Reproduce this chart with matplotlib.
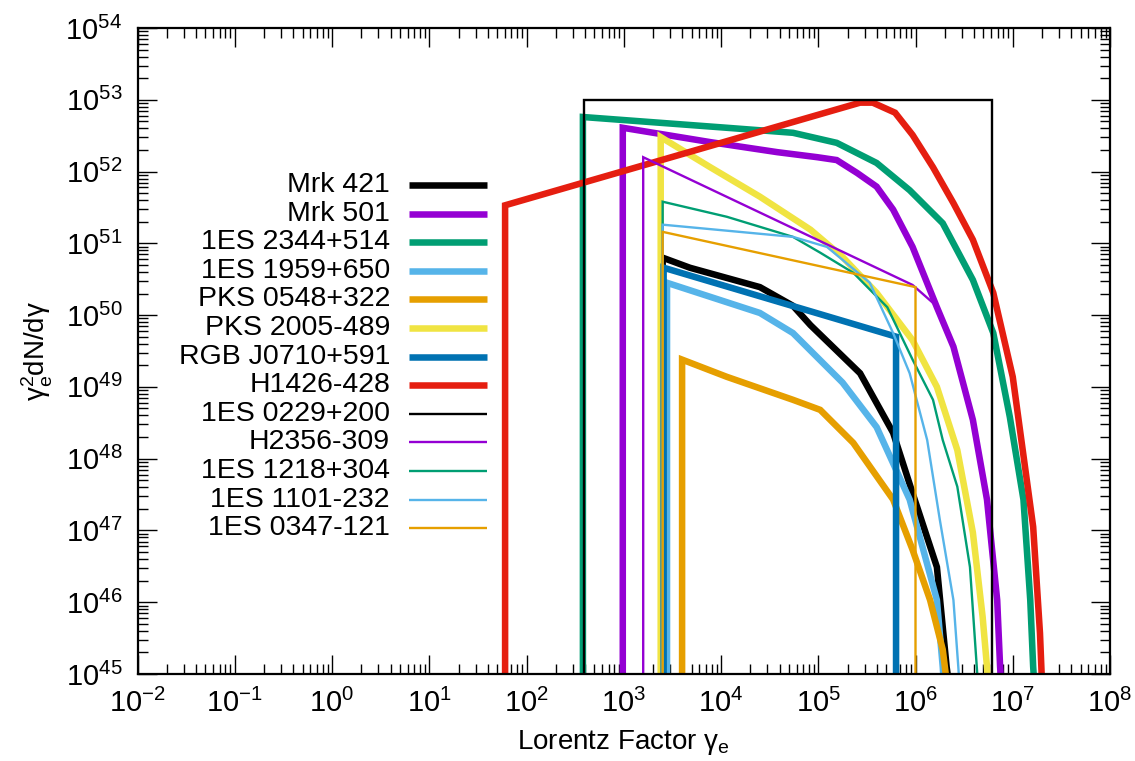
import numpy as np
import matplotlib
matplotlib.use("Agg")
import matplotlib.pyplot as plt
from matplotlib.ticker import LogLocator, FuncFormatter, NullFormatter

plt.rcParams['font.family'] = ['Liberation Sans', 'DejaVu Sans']
plt.rcParams['mathtext.fontset'] = 'custom'
plt.rcParams['mathtext.rm'] = 'Liberation Sans'
plt.rcParams['mathtext.it'] = 'Liberation Sans'
plt.rcParams['mathtext.default'] = 'regular'

# ---- data (log10 of Lorentz factor, log10 of gamma^2 dN/dgamma) ----
names = ["Mrk 421", "Mrk 501", "1ES 2344+514", "1ES 1959+650", "PKS 0548+322",
         "PKS 2005-489", "RGB J0710+591", "H1426-428", "1ES 0229+200",
         "H2356-309", "1ES 1218+304", "1ES 1101-232", "1ES 0347-121"]
colors = ["#000000", "#9400d3", "#009e73", "#56b4e9", "#e69f00", "#f0e442",
          "#0072b2", "#e51e10", "#000000", "#9400d3", "#009e73", "#56b4e9", "#e69f00"]
thick = [True] * 8 + [False] * 5

mrk421_x = [3.40, 3.40, 3.68, 4.40, 4.74, 4.92, 5.43, 5.77, 5.97, 6.22, 6.32, 6.34]
mrk421_y = [44.9, 50.80, 50.66, 50.39, 50.13, 49.86, 49.19, 48.36, 47.52, 46.49, 45.10, 44.9]

mrk501_x = [2.99, 2.99, 3.89, 4.58, 4.99, 5.19, 5.40, 5.60, 5.77, 5.97, 6.22, 6.39, 6.59, 6.735, 6.84, 6.87, 6.88]
mrk501_y = [44.9, 52.61, 52.41, 52.27, 52.20, 52.16, 51.98, 51.79, 51.47, 50.95, 50.11, 49.56, 48.54, 47.43, 46.03, 45.10, 44.9]

es2344_x = [2.58, 2.58, 4.06, 4.74, 5.19, 5.60, 5.94, 6.28, 6.59, 6.80, 6.97, 7.11, 7.18, 7.21, 7.22]
es2344_y = [44.9, 52.76, 52.61, 52.54, 52.40, 52.12, 51.74, 51.28, 50.49, 49.75, 48.58, 47.43, 46.03, 45.10, 44.9]

es1959_x = [3.445, 3.445, 4.40, 4.74, 5.25, 5.60, 5.94, 6.22, 6.28, 6.29]
es1959_y = [44.9, 50.45, 50.03, 49.75, 49.06, 48.44, 47.43, 46.03, 45.10, 44.9]

pks0548_x = [3.60, 3.60, 4.06, 4.74, 5.02, 5.36, 5.77, 5.97, 6.15, 6.28, 6.32]
pks0548_y = [44.9, 49.38, 49.14, 48.82, 48.68, 48.22, 47.43, 46.73, 46.03, 45.34, 44.9]

pks2005_x = [3.38, 3.38, 3.89, 4.40, 4.92, 5.25, 5.60, 5.97, 6.22, 6.43, 6.59, 6.69, 6.735, 6.745]
pks2005_y = [44.9, 52.48, 52.06, 51.65, 51.19, 50.81, 50.31, 49.65, 49.00, 48.12, 46.97, 45.80, 45.10, 44.9]

rgb0710_x = [3.41, 3.41, 5.80, 5.80]
rgb0710_y = [44.9, 50.66, 49.70, 44.9]

h1426_x = [1.78, 1.78, 5.43, 5.56, 5.79, 5.97, 6.18, 6.39, 6.59, 6.80, 7.00, 7.21, 7.28, 7.30]
h1426_y = [44.9, 51.53, 52.96, 52.96, 52.82, 52.51, 52.06, 51.56, 51.05, 50.31, 49.14, 47.05, 45.57, 44.9]

es0229_x = [2.59, 2.59, 6.79, 6.79]
es0229_y = [44.9, 53.0, 53.0, 44.9]

h2356_x = [3.20, 3.20, 5.97, 6.18, 6.22]
h2356_y = [44.9, 52.20, 50.42, 50.17, 50.11]

es1218_x = [3.40, 3.40, 4.06, 4.74, 5.02, 5.36, 5.71, 5.97, 6.18, 6.28, 6.43, 6.56, 6.63, 6.64]
es1218_y = [44.9, 51.58, 51.37, 51.09, 50.87, 50.59, 50.11, 49.38, 48.82, 48.26, 47.61, 46.49, 45.10, 44.9]

es1101_x = [3.40, 3.40, 4.74, 5.09, 5.25, 5.53, 5.77, 5.94, 6.12, 6.25, 6.39, 6.44, 6.45]
es1101_y = [44.9, 51.26, 51.09, 50.95, 50.77, 50.45, 49.75, 49.19, 48.26, 47.15, 46.03, 45.10, 44.9]

es0347_x = [3.40, 3.40, 6.00, 6.00]
es0347_y = [44.9, 51.16, 50.39, 44.9]

series_x = [mrk421_x, mrk501_x, es2344_x, es1959_x, pks0548_x, pks2005_x, rgb0710_x,
            h1426_x, es0229_x, h2356_x, es1218_x, es1101_x, es0347_x]
series_y = [mrk421_y, mrk501_y, es2344_y, es1959_y, pks0548_y, pks2005_y, rgb0710_y,
            h1426_y, es0229_y, h2356_y, es1218_y, es1101_y, es0347_y]

# ---- figure ----
W, H = 1135, 761
fig = plt.figure(figsize=(W / 100, H / 100), dpi=100)
L, R, T, B = 137.5, 1110, 28, 674
ax = fig.add_axes([L / W, 1 - B / H, (R - L) / W, (B - T) / H])
ax.set_xscale('log')
ax.set_yscale('log')
ax.set_xlim(1e-2, 1e8)
ax.set_ylim(1e45, 1e54)

LW_THICK, LW_THIN = 4.7, 1.7
for xs, ys, c, tk in zip(series_x, series_y, colors, thick):
    ax.plot(10 ** np.array(xs), 10 ** np.array(ys), color=c,
            lw=LW_THICK if tk else LW_THIN,
            solid_joinstyle='miter', solid_capstyle='butt')

fmt = FuncFormatter(lambda v, p: r'$10^{%d}$' % int(round(np.log10(v))))
for axis in (ax.xaxis, ax.yaxis):
    axis.set_major_locator(LogLocator(base=10, numticks=30))
    axis.set_minor_locator(LogLocator(base=10, subs=np.arange(2, 10), numticks=30))
    axis.set_major_formatter(fmt)
    axis.set_minor_formatter(NullFormatter())

ax.tick_params(which='both', direction='in', top=True, right=True, width=1.0, colors='black')
ax.tick_params(which='major', length=14, labelsize=21)
ax.tick_params(which='minor', length=7)
ax.tick_params(axis='x', which='major', pad=11)
ax.tick_params(axis='y', which='major', pad=11)
for s in ax.spines.values():
    s.set_linewidth(1.6)

ax.set_xlabel(r'Lorentz Factor $\gamma_e$', fontsize=20)
ax.xaxis.set_label_coords(0.5, -0.083)
ax.set_ylabel(r'$\gamma_e^2$dN/d$\gamma$', fontsize=20)
ax.yaxis.set_label_coords(-0.085, 0.5)

# ---- legend (text right-aligned, sample to the right) ----
row0, dy = 185, 28.6
for i, (n, c, tk) in enumerate(zip(names, colors, thick)):
    yy = 1 - (row0 + i * dy) / H
    fig.text(390 / W, yy, n, ha='right', va='center', fontsize=20.5)
    fig.add_artist(plt.Line2D([409 / W, 487 / W], [yy, yy], color=c,
                              lw=LW_THICK if tk else LW_THIN,
                              solid_capstyle='butt', transform=fig.transFigure))

fig.savefig('out.png', dpi=100)
